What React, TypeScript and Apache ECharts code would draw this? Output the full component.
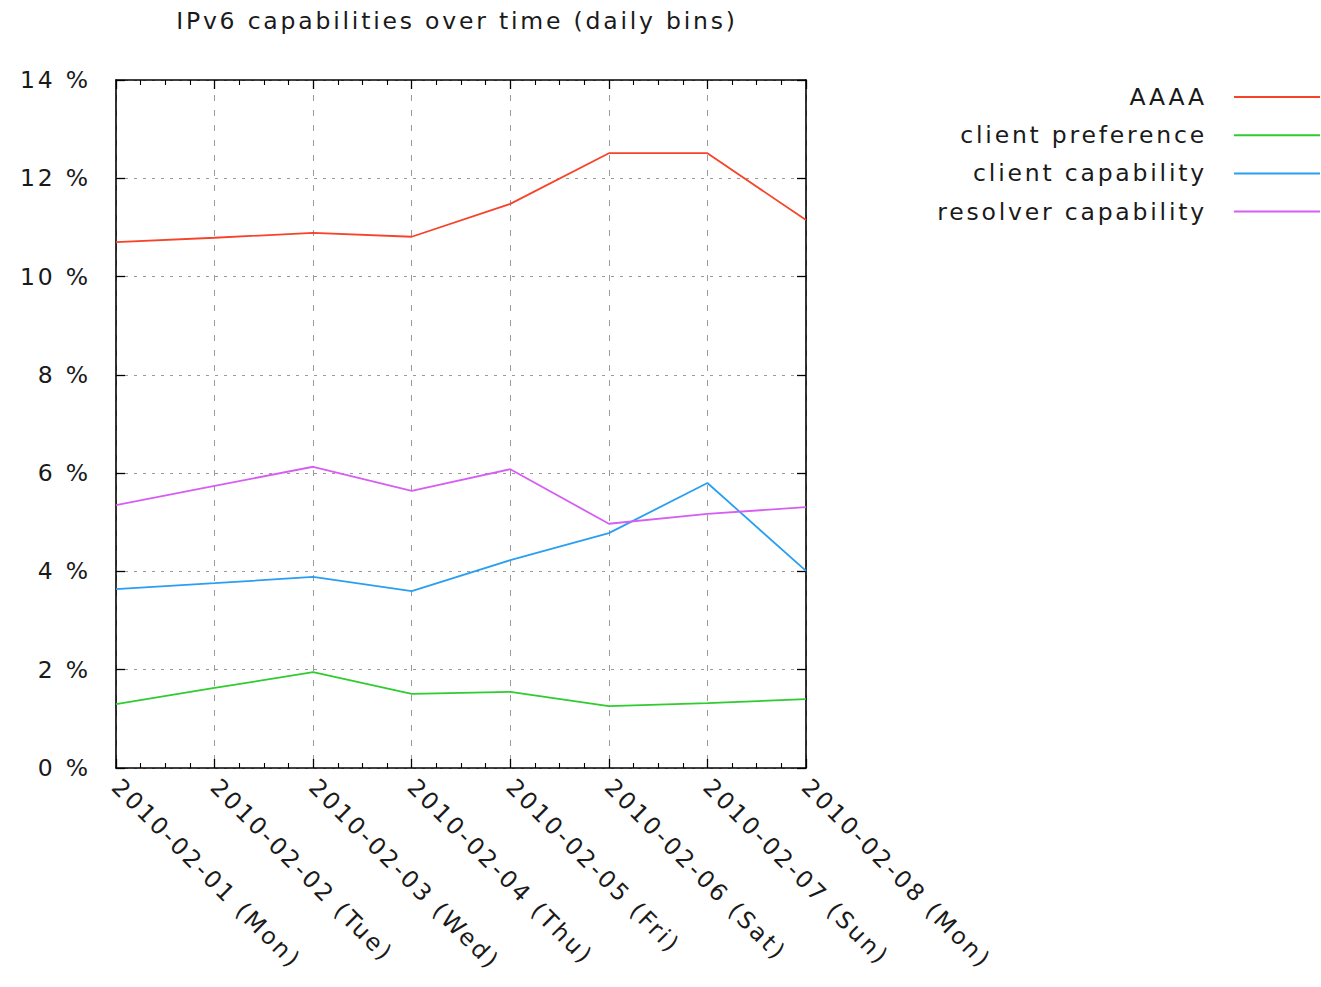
import React, { useEffect, useRef } from "react";
import * as echarts from "echarts";

const categories = [
  "2010-02-01 (Mon)",
  "2010-02-02 (Tue)",
  "2010-02-03 (Wed)",
  "2010-02-04 (Thu)",
  "2010-02-05 (Fri)",
  "2010-02-06 (Sat)",
  "2010-02-07 (Sun)",
  "2010-02-08 (Mon)",
];
const yTicks = [0, 2, 4, 6, 8, 10, 12, 14];
const aaaa = [10.7, 10.79, 10.89, 10.81, 11.48, 12.51, 12.51, 11.15];
const clientPreference = [1.3, 1.63, 1.95, 1.51, 1.55, 1.26, 1.32, 1.4];
const clientCapability = [3.64, 3.76, 3.89, 3.6, 4.23, 4.78, 5.8, 4.01];
const resolverCapability = [5.35, 5.74, 6.13, 5.64, 6.08, 4.97, 5.17, 5.31];
const seriesNames = ["AAAA", "client preference", "client capability", "resolver capability"];
const colors = ["#f7432a", "#2fcc2f", "#2a9ff2", "#d65ef2"];

const FONT = "DejaVu Sans";
const FS = 23.5;

export default function App() {
  const ref = useRef<HTMLDivElement>(null);
  useEffect(() => {
    const chart = echarts.init(ref.current!, null, { renderer: "svg" });
    const values = [aaaa, clientPreference, clientCapability, resolverCapability];
    const tick = () => ({ inside: true, length: 9, lineStyle: { color: "#000", width: 1.3 } });
    const minor = () => ({ show: true, splitNumber: 4, length: 5, lineStyle: { color: "#000", width: 1.1 } });
    const axisLine = () => ({ show: true, onZero: false, lineStyle: { color: "#000", width: 1.6 } });
    chart.setOption({
      animation: false,
      backgroundColor: "#ffffff",
      textStyle: { fontFamily: FONT },
      title: {
        text: "IPv6 capabilities over time (daily bins)",
        left: 457,
        textAlign: "center",
        top: 9,
        padding: 0,
        textStyle: { fontFamily: FONT, fontWeight: "normal", fontSize: FS, color: "#1a1a1a" },
      },
      legend: {
        right: 1,
        top: 85,
        padding: 0,
        orient: "vertical",
        align: "right",
        itemWidth: 86,
        itemHeight: 2,
        itemGap: 14.2,
        icon: "rect",
        textStyle: { fontFamily: FONT, fontSize: FS, color: "#1a1a1a", padding: [0, 22, 0, 0] },
        data: seriesNames,
      },
      grid: { left: 116, top: 80, width: 690, height: 688, containLabel: false },
      xAxis: [
        {
          type: "value",
          min: 0,
          max: categories.length - 1,
          interval: 1,
          position: "bottom",
          axisLine: axisLine(),
          axisTick: tick(),
          minorTick: minor(),
          splitLine: { show: true, lineStyle: { color: "#9a9a9a", type: [6, 9], width: 1 } },
          axisLabel: {
            rotate: -45,
            margin: 15,
            fontSize: FS,
            fontFamily: FONT,
            color: "#1a1a1a",
            formatter: (v: number) => categories[Math.round(v)] ?? "",
          },
        },
        {
          type: "value",
          min: 0,
          max: categories.length - 1,
          interval: 1,
          position: "top",
          axisLine: axisLine(),
          axisTick: tick(),
          minorTick: minor(),
          splitLine: { show: false },
          axisLabel: { show: false },
        },
      ],
      yAxis: [
        {
          type: "value",
          min: yTicks[0],
          max: yTicks[yTicks.length - 1],
          interval: yTicks[1] - yTicks[0],
          position: "left",
          axisLine: axisLine(),
          axisTick: tick(),
          splitLine: { show: true, lineStyle: { color: "#9a9a9a", type: [3, 6], width: 1 } },
          axisLabel: {
            margin: 25,
            fontSize: FS,
            fontFamily: FONT,
            color: "#1a1a1a",
            formatter: (v: number) => `${v} %`,
          },
        },
        {
          type: "value",
          min: yTicks[0],
          max: yTicks[yTicks.length - 1],
          interval: yTicks[1] - yTicks[0],
          position: "right",
          axisLine: axisLine(),
          axisTick: tick(),
          splitLine: { show: false },
          axisLabel: { show: false },
        },
      ],
      series: seriesNames.map((name, i) => ({
        name,
        type: "line",
        xAxisIndex: 0,
        yAxisIndex: 0,
        data: values[i].map((v, j) => [j, v]),
        showSymbol: false,
        symbol: "none",
        color: colors[i],
        lineStyle: { color: colors[i], width: 1.8 },
      })),
    });
    return () => chart.dispose();
  }, []);
  return (
    <>
      <style>{`#chart-box text { letter-spacing: 2.8px; }`}</style>
      <div
        id="chart-box"
        ref={ref}
        style={{ position: "absolute", left: 0, top: 0, width: 1321, height: 987 }}
      />
    </>
  );
}
